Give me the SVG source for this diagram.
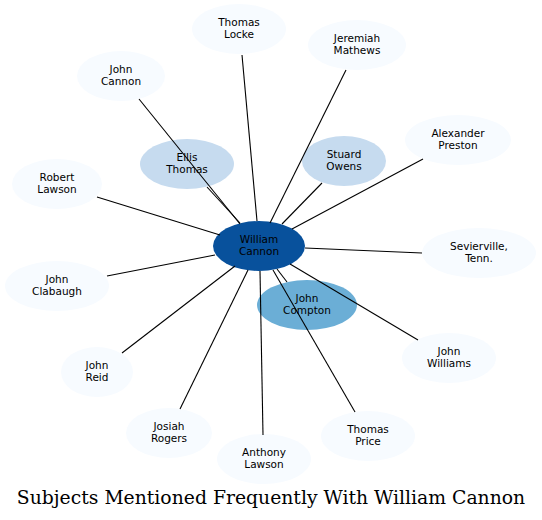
<svg xmlns="http://www.w3.org/2000/svg" width="542" height="520" viewBox="0 0 542 520">
<style>
.n0{fill:#f7fbff}
.n1{fill:#c6dbef}
.n2{fill:#6baed6}
.n3{fill:#08519c}
text{font-family:"DejaVu Sans",sans-serif;font-size:10.5px;fill:#000;text-anchor:middle}
.title{font-family:"DejaVu Serif",serif;font-size:18.8px}
#edges line{stroke:#000;stroke-width:1.1}
</style>
<rect width="542" height="520" fill="#fff"/>
<g id="n-william"><ellipse class="n3" cx="259" cy="246" rx="46" ry="25"/><text x="259" y="243">William</text><text x="259" y="255">Cannon</text></g>
<g id="n-ellis"><ellipse class="n1" cx="187" cy="164" rx="47" ry="25"/><text x="187" y="161">Ellis</text><text x="187" y="173">Thomas</text></g>
<g id="n-stuard"><ellipse class="n1" cx="344" cy="161" rx="42" ry="25"/><text x="344" y="158">Stuard</text><text x="344" y="170">Owens</text></g>
<g id="n-compton"><ellipse class="n2" cx="307" cy="305" rx="50" ry="25"/><text x="307" y="302">John</text><text x="307" y="314">Compton</text></g>
<g id="n-locke"><ellipse class="n0" cx="239" cy="29" rx="47" ry="25"/><text x="239" y="26">Thomas</text><text x="239" y="38">Locke</text></g>
<g id="n-mathews"><ellipse class="n0" cx="357" cy="45" rx="49" ry="25"/><text x="357" y="42">Jeremiah</text><text x="357" y="54">Mathews</text></g>
<g id="n-jcannon"><ellipse class="n0" cx="121" cy="76" rx="44" ry="25"/><text x="121" y="73">John</text><text x="121" y="85">Cannon</text></g>
<g id="n-preston"><ellipse class="n0" cx="458" cy="140" rx="53" ry="25"/><text x="458" y="137">Alexander</text><text x="458" y="149">Preston</text></g>
<g id="n-rlawson"><ellipse class="n0" cx="57" cy="184" rx="45" ry="25"/><text x="57" y="181">Robert</text><text x="57" y="193">Lawson</text></g>
<g id="n-sevierville"><ellipse class="n0" cx="479" cy="253" rx="57" ry="25"/><text x="479" y="250">Sevierville,</text><text x="479" y="262">Tenn.</text></g>
<g id="n-clabaugh"><ellipse class="n0" cx="57" cy="286" rx="52" ry="25"/><text x="57" y="283">John</text><text x="57" y="295">Clabaugh</text></g>
<g id="n-williams"><ellipse class="n0" cx="449" cy="358" rx="47" ry="25"/><text x="449" y="355">John</text><text x="449" y="367">Williams</text></g>
<g id="n-reid"><ellipse class="n0" cx="97" cy="372" rx="36" ry="25"/><text x="97" y="369">John</text><text x="97" y="381">Reid</text></g>
<g id="n-rogers"><ellipse class="n0" cx="169" cy="433" rx="43" ry="25"/><text x="169" y="430">Josiah</text><text x="169" y="442">Rogers</text></g>
<g id="n-alawson"><ellipse class="n0" cx="264" cy="459" rx="47" ry="25"/><text x="264" y="456">Anthony</text><text x="264" y="468">Lawson</text></g>
<g id="n-price"><ellipse class="n0" cx="368" cy="436" rx="47" ry="25"/><text x="368" y="433">Thomas</text><text x="368" y="445">Price</text></g>
<g id="edges">
<line x1="242" y1="55" x2="257" y2="221"/>
<line x1="346" y1="70" x2="270" y2="223"/>
<line x1="139" y1="99" x2="240" y2="224"/>
<line x1="207" y1="187" x2="240" y2="223"/>
<line x1="322" y1="183" x2="282" y2="224"/>
<line x1="423" y1="159" x2="292" y2="229"/>
<line x1="97" y1="197" x2="220" y2="235"/>
<line x1="422" y1="253" x2="305" y2="248"/>
<line x1="107" y1="276" x2="215" y2="255"/>
<line x1="122" y1="353" x2="235" y2="266"/>
<line x1="180" y1="409" x2="248" y2="270"/>
<line x1="263" y1="435" x2="260" y2="271"/>
<line x1="355" y1="412" x2="273" y2="270"/>
<line x1="418" y1="340" x2="290" y2="264"/>
<line x1="287" y1="282" x2="277" y2="269"/>
</g>
<text class="title" x="271" y="504">Subjects Mentioned Frequently With William Cannon</text>
</svg>
